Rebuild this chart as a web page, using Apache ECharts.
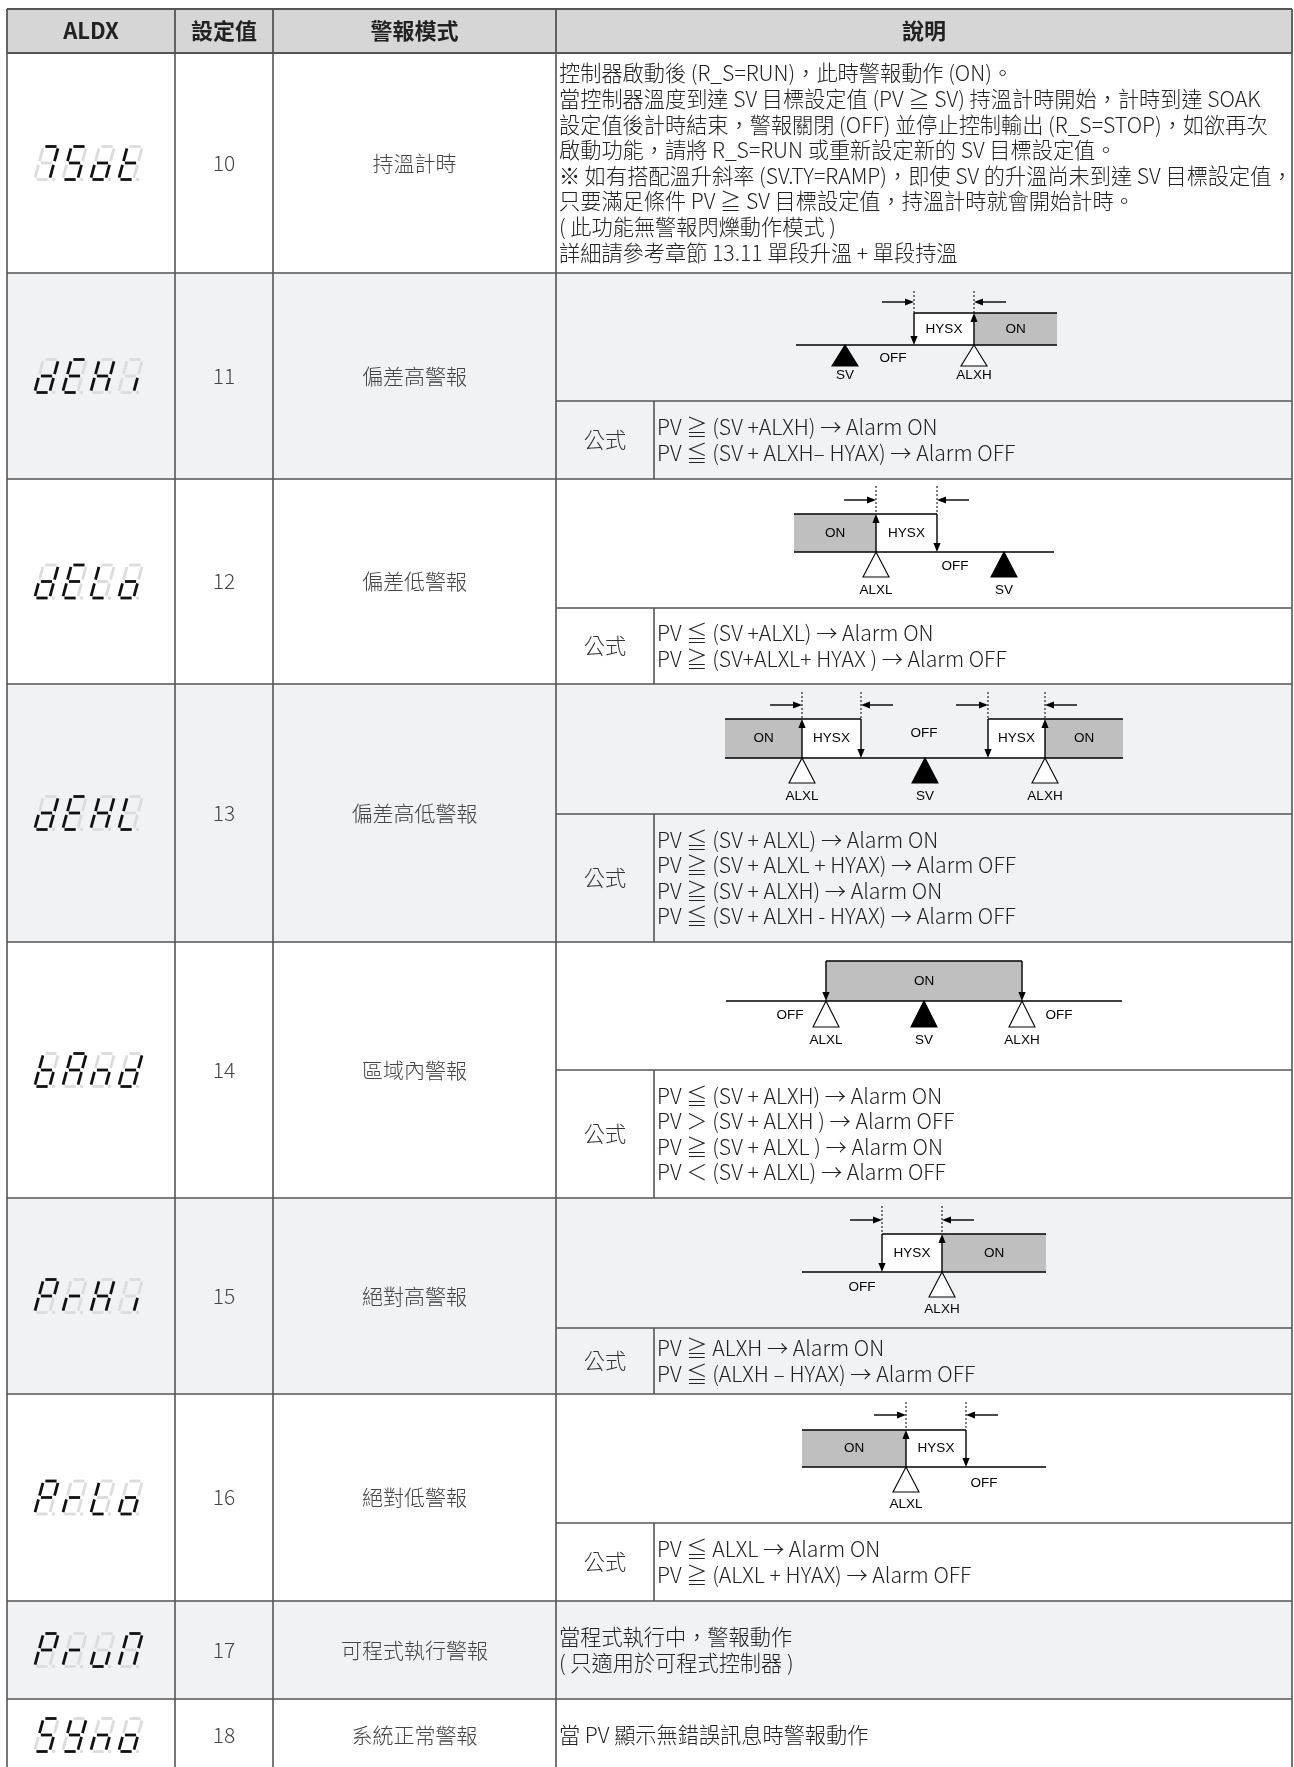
<!DOCTYPE html>
<html><head><meta charset="utf-8">
<script src="https://cdn.jsdelivr.net/npm/echarts/dist/echarts.min.js"></script>
<style>html,body{margin:0;padding:0;background:#fff}#c{width:1294px;height:1767px}</style>
</head><body><div id="c"></div>
<script>
// ---------------- DATA ----------------
const headers = ['ALDX', '設定值', '警報模式', '說明'];
const codes = ['7Sot', 'dEHi', 'dELo', 'dEHL', 'bAnd', 'PrHi', 'PrLo', 'PruN', 'SYno'];
const setValues = ['10', '11', '12', '13', '14', '15', '16', '17', '18'];
const modeNames = ['持溫計時', '偏差高警報', '偏差低警報', '偏差高低警報', '區域內警報', '絕對高警報', '絕對低警報', '可程式執行警報', '系統正常警報'];
const descriptions = [
  ['控制器啟動後 (R_S=RUN)，此時警報動作 (ON)。',
   '當控制器溫度到達 SV 目標設定值 (PV ≧ SV) 持溫計時開始，計時到達 SOAK',
   '設定值後計時結束，警報關閉 (OFF) 並停止控制輸出 (R_S=STOP)，如欲再次',
   '啟動功能，請將 R_S=RUN 或重新設定新的 SV 目標設定值。',
   '※ 如有搭配溫升斜率 (SV.TY=RAMP)，即使 SV 的升溫尚未到達 SV 目標設定值，',
   '只要滿足條件 PV ≧ SV 目標設定值，持溫計時就會開始計時。',
   '( 此功能無警報閃爍動作模式 )',
   '詳細請參考章節 13.11 單段升溫 + 單段持溫'],
  null, null, null, null, null, null,
  ['當程式執行中，警報動作', '( 只適用於可程式控制器 )'],
  ['當 PV 顯示無錯誤訊息時警報動作']
];
const formulaLabel = '公式';
const formulas = [
  null,
  ['PV ≧ (SV +ALXH) → Alarm ON', 'PV ≦ (SV + ALXH– HYAX) → Alarm OFF'],
  ['PV ≦ (SV +ALXL) → Alarm ON', 'PV ≧ (SV+ALXL+ HYAX ) → Alarm OFF'],
  ['PV ≦ (SV + ALXL) → Alarm ON', 'PV ≧ (SV + ALXL + HYAX) → Alarm OFF', 'PV ≧ (SV + ALXH) → Alarm ON', 'PV ≦ (SV + ALXH - HYAX) → Alarm OFF'],
  ['PV ≦ (SV + ALXH) → Alarm ON', 'PV ＞ (SV + ALXH ) → Alarm OFF', 'PV ≧ (SV + ALXL ) → Alarm ON', 'PV ＜ (SV + ALXL) → Alarm OFF'],
  ['PV ≧ ALXH → Alarm ON', 'PV ≦ (ALXH – HYAX) → Alarm OFF'],
  ['PV ≦ ALXL → Alarm ON', 'PV ≧ (ALXL + HYAX) → Alarm OFF'],
  null, null
];
// alarm diagrams: positions on each diagram's own temperature axis (0 = middle of cell)
const diagrams = [
  null,
  {span: [-128, 133], on: [[50, 133]], hys: [[-10, 50]], up: [50], down: [-10], dims: [[-10, 50]],
   marks: [[-79, 'SV'], [50, 'ALXH']], off: [[-31, 13]]},
  {span: [-130, 130], on: [[-130, -48]], hys: [[-48, 13]], up: [-48], down: [13], dims: [[-48, 13]],
   marks: [[-48, 'ALXL'], [80, 'SV']], off: [[31, 14]]},
  {span: [-199, 199], on: [[-199, -122], [121, 199]], hys: [[-122, -63], [64, 121]], up: [-122, 121], down: [-63, 64],
   dims: [[-122, -63], [64, 121]], marks: [[-122, 'ALXL'], [1, 'SV'], [121, 'ALXH']], off: [[0, -25]]},
  {span: [-198, 198], on: [[-98, 98]], hys: [], up: [], down: [-98, 98], dims: [],
   marks: [[-98, 'ALXL'], [0, 'SV'], [98, 'ALXH']], off: [[-134, 14], [135, 14]]},
  {span: [-122, 122], on: [[18, 122]], hys: [[-42, 18]], up: [18], down: [-42], dims: [[-42, 18]],
   marks: [[18, 'ALXH']], off: [[-62, 15]]},
  {span: [-122, 122], on: [[-122, -18]], hys: [[-18, 42]], up: [-18], down: [42], dims: [[-18, 42]],
   marks: [[-18, 'ALXL']], off: [[60, 16]]},
  null, null
];
// seven-segment glyphs
const segMap = {
  '7': 'abc', S: 'acdfg', o: 'cdeg', E: 'adefg', t: 'defg', d: 'bcdeg', H: 'bcefg', i: 'c', L: 'def',
  b: 'cdefg', A: 'abcefg', n: 'ceg', P: 'abefg', r: 'eg', u: 'cde', N: 'abcef', Y: 'bcdfg'
};

// ---------------- LAYOUT ----------------
const W = 1294, H = 1767;
const colX = [7, 175, 273, 556, 1292];
const subColX = 654;
const headTop = 9, headBot = 53;
const rowBounds = [53, 273, 479, 684, 942, 1198, 1394, 1601, 1699, 1771];
const diagSplit = [null, 401, 608, 814, 1070, 1328, 1523, null, null];
const diagGeom = [null,
  {base: 72, boxH: 32, triH: 21, lab: 30, dot: 22, arr: 11},
  {base: 73, boxH: 38, triH: 25, lab: 38, dot: 28, arr: 14},
  {base: 74, boxH: 39, triH: 25, lab: 38, dot: 27, arr: 14},
  {base: 59, boxH: 40, triH: 26, lab: 39, dot: 27, arr: 14},
  {base: 74, boxH: 38, triH: 25, lab: 37, dot: 28, arr: 14},
  {base: 73, boxH: 37, triH: 25, lab: 37, dot: 28, arr: 15},
  null, null];
const FONT = '"Noto Sans CJK TC","Noto Sans CJK SC",sans-serif';
const DFONT = '"Liberation Sans",Arial,sans-serif';
const LINE = '#555';
const BODY = '300 21.2px ' + FONT;
const LH = 25.6;

// ---------------- HELPERS ----------------
function P(api, x, y) { return api.coord([x, y]); }
function ln(api, x1, y1, x2, y2, st) {
  const a = P(api, x1, y1), b = P(api, x2, y2);
  return {type: 'line', shape: {x1: a[0], y1: a[1], x2: b[0], y2: b[1]}, style: Object.assign({stroke: '#000', lineWidth: 1.5}, st || {})};
}
function rc(api, x1, y1, x2, y2, st) {
  const a = P(api, x1, y1), b = P(api, x2, y2);
  return {type: 'rect', shape: {x: a[0], y: a[1], width: b[0] - a[0], height: b[1] - a[1]}, style: st};
}
function pg(api, pts, st) { return {type: 'polygon', shape: {points: pts.map(p => P(api, p[0], p[1]))}, style: st}; }
function tx(api, str, x, y, font, fill, align) {
  const a = P(api, x, y);
  return {type: 'text', x: a[0], y: a[1], style: {text: str, font: font, fill: fill, align: align || 'center', verticalAlign: 'middle'}};
}
function arrow(api, x1, y1, x2, y2, out) {
  const L = 9, hw = 3.6;
  const dx = x2 - x1, dy = y2 - y1, len = Math.hypot(dx, dy), ux = dx / len, uy = dy / len;
  const bx = x2 - ux * L, by = y2 - uy * L;
  out.push(ln(api, x1, y1, bx + ux, by + uy, {lineWidth: 1.4}));
  out.push(pg(api, [[x2, y2], [bx - uy * hw, by + ux * hw], [bx + uy * hw, by - ux * hw]], {fill: '#000'}));
}

function drawDiagram(api, d, g, top, cx, out) {
  const X = v => cx + v;
  const base = top + g.base, boxTop = base - g.boxH, mid = (boxTop + base) / 2;
  const lf = '13.5px ' + DFONT;
  d.on.forEach(([a, b]) => {
    out.push(rc(api, X(a), boxTop, X(b), base, {fill: '#bfbfbf'}));
    out.push(ln(api, X(a), boxTop, X(b), boxTop));
    out.push(tx(api, 'ON', X((a + b) / 2), mid, lf, '#000'));
  });
  d.hys.forEach(([a, b]) => {
    out.push(rc(api, X(a), boxTop, X(b), base, {fill: '#ffffff'}));
    out.push(ln(api, X(a), boxTop, X(b), boxTop));
    out.push(tx(api, 'HYSX', X((a + b) / 2), mid, lf, '#000'));
  });
  out.push(ln(api, X(d.span[0]), base, X(d.span[1]), base, {lineWidth: 1.6}));
  d.up.forEach(u => arrow(api, X(u), base, X(u), boxTop, out));
  d.down.forEach(u => arrow(api, X(u), boxTop, X(u), base, out));
  d.dims.forEach(([a, b]) => {
    [a, b].forEach(v => out.push(ln(api, X(v), boxTop - g.dot, X(v), boxTop, {lineWidth: 1, lineDash: [2, 2]})));
    arrow(api, X(a) - 32, boxTop - g.arr, X(a), boxTop - g.arr, out);
    arrow(api, X(b) + 32, boxTop - g.arr, X(b), boxTop - g.arr, out);
  });
  d.marks.forEach(([v, label]) => {
    const solid = label === 'SV';
    out.push(pg(api, [[X(v), base], [X(v) - 13, base + g.triH], [X(v) + 13, base + g.triH]],
      {fill: solid ? '#000' : '#fff', stroke: '#000', lineWidth: 1.1}));
    out.push(tx(api, label, X(v), base + g.lab, lf, '#000'));
  });
  d.off.forEach(([v, dy]) => out.push(tx(api, 'OFF', X(v), base + dy, lf, '#000')));
}

function drawCode(api, code, cx, cy, out) {
  const pitch = 28, w = 15, h = 33, sl = 0.27, gp = 1.9;
  const total = pitch * 3 + w + h * sl + 5;
  const x0 = cx - total / 2, y0 = cy - h / 2;
  const segs = {
    a: [[gp, 0], [w - gp, 0]], b: [[w, gp], [w, h / 2 - gp]], c: [[w, h / 2 + gp], [w, h - gp]],
    d: [[gp, h], [w - gp, h]], e: [[0, h / 2 + gp], [0, h - gp]], f: [[0, gp], [0, h / 2 - gp]],
    g: [[gp, h / 2], [w - gp, h / 2]]
  };
  code.split('').forEach((ch, k) => {
    const ox = x0 + k * pitch;
    const T = (x, y) => [ox + x + (h - y) * sl, y0 + y];
    const act = segMap[ch] || '';
    'abcdefg'.split('').forEach(s => {
      const p1 = T(...segs[s][0]), p2 = T(...segs[s][1]);
      out.push(ln(api, p1[0], p1[1], p2[0], p2[1], {stroke: act.indexOf(s) >= 0 ? '#111' : '#dcdcdc', lineWidth: 2.8}));
    });
    const dp = P(api, ...T(w + 4, h));
    out.push({type: 'circle', shape: {cx: dp[0], cy: dp[1], r: 1.7}, style: {fill: '#dcdcdc'}});
  });
}

// ---------------- RENDERERS ----------------
const rowIdx = setValues.map((_, i) => [i, 0]);

function renderBg(params, api) {
  const i = api.value(0);
  const out = [rc(api, colX[0], rowBounds[i], colX[4], rowBounds[i + 1], {fill: i % 2 ? '#f1f2f4' : '#ffffff'})];
  return {type: 'group', children: out};
}
function renderContent(params, api) {
  const i = api.value(0);
  const top = rowBounds[i], bot = rowBounds[i + 1];
  const out = [];
  const cy = (top + bot) / 2;
  drawCode(api, codes[i], (colX[0] + colX[1]) / 2, cy, out);
  out.push(tx(api, setValues[i], (colX[1] + colX[2]) / 2, cy, '300 21px ' + FONT, '#444'));
  out.push(tx(api, modeNames[i], (colX[2] + colX[3]) / 2, cy, '300 21px ' + FONT, '#444'));
  if (descriptions[i]) {
    const n = descriptions[i].length, y0 = cy - (n - 1) * LH / 2;
    descriptions[i].forEach((s, k) => out.push(tx(api, s, colX[3] + 3, y0 + k * LH, BODY, '#222', 'left')));
  }
  if (diagrams[i]) {
    drawDiagram(api, diagrams[i], diagGeom[i], top, (colX[3] + colX[4]) / 2, out);
    const fy = (diagSplit[i] + bot) / 2;
    out.push(tx(api, formulaLabel, (colX[3] + subColX) / 2, fy, BODY, '#333'));
    const n = formulas[i].length, y0 = fy - (n - 1) * LH / 2;
    formulas[i].forEach((s, k) => out.push(tx(api, s, subColX + 3, y0 + k * LH, BODY, '#222', 'left')));
  }
  return {type: 'group', children: out};
}
function renderLines(params, api) {
  const i = api.value(0);
  const top = rowBounds[i], bot = rowBounds[i + 1];
  const st = {stroke: LINE, lineWidth: 1.6};
  const out = [ln(api, colX[0], bot, colX[4], bot, st)];
  colX.forEach(x => out.push(ln(api, x, top, x, bot, st)));
  if (diagSplit[i]) {
    out.push(ln(api, colX[3], diagSplit[i], colX[4], diagSplit[i], st));
    out.push(ln(api, subColX, diagSplit[i], subColX, bot, st));
  }
  return {type: 'group', children: out};
}
function renderHeader(params, api) {
  const out = [rc(api, colX[0], headTop, colX[4], headBot, {fill: '#d6d6d6'})];
  const st = {stroke: LINE, lineWidth: 1.8};
  headers.forEach((h, k) => out.push(tx(api, h, (colX[k] + colX[k + 1]) / 2, (headTop + headBot) / 2, 'bold 22px ' + FONT, '#222')));
  out.push(ln(api, colX[0], headTop, colX[4], headTop, st));
  out.push(ln(api, colX[0], headBot, colX[4], headBot, st));
  colX.forEach(x => out.push(ln(api, x, headTop, x, headBot, st)));
  return {type: 'group', children: out};
}

const chart = echarts.init(document.getElementById('c'), null, {renderer: 'canvas', width: W, height: H});
chart.setOption({
  animation: false,
  backgroundColor: '#ffffff',
  grid: {left: 0, right: 0, top: 0, bottom: 0},
  xAxis: {type: 'value', min: 0, max: W, show: false},
  yAxis: {type: 'value', min: 0, max: H, inverse: true, show: false},
  series: [
    {type: 'custom', data: rowIdx, renderItem: renderBg, clip: false, silent: true, z: 1},
    {type: 'custom', data: rowIdx, renderItem: renderContent, clip: false, silent: true, z: 2},
    {type: 'custom', data: rowIdx, renderItem: renderLines, clip: false, silent: true, z: 3},
    {type: 'custom', data: [[0, 0]], renderItem: renderHeader, clip: false, silent: true, z: 4}
  ]
});
</script></body></html>
